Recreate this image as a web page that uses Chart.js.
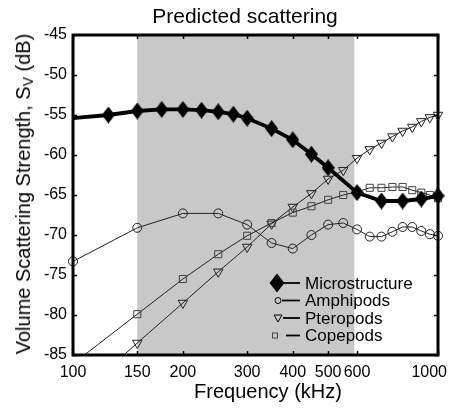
<!DOCTYPE html>
<html><head><meta charset="utf-8">
<script src="https://cdn.jsdelivr.net/npm/chart.js@4/dist/chart.umd.min.js"></script>
<style>
html,body{margin:0;padding:0;background:#fff;}
#wrap{position:relative;width:451px;height:411px;}
#ytitle{position:absolute;left:23px;top:194px;transform:translate(-50%,-50%) rotate(-90deg);white-space:nowrap;font:20px "Liberation Sans",Arial,sans-serif;color:#000;line-height:1;}
#ytitle sub{font-size:70%;vertical-align:-0.2em;line-height:0;}
</style></head><body>
<div id="wrap"><canvas id="c" width="451" height="411"></canvas>
<div id="ytitle">Volume Scattering Strength, S<sub>V</sub> (dB)</div></div>
<script>
// ---- data ----
const microFreq = [100,125,150,175,200,225,250,275,300,350,400,450,500,600,700,800,900,1000];
const microSv   = [-55.4,-55.0,-54.5,-54.3,-54.3,-54.4,-54.6,-54.9,-55.4,-56.7,-58.1,-59.9,-61.6,-64.7,-65.75,-65.75,-65.5,-65.1];
const ampFreq   = [100,150,200,250,300,350,400,450,500,550,600,650,700,750,800,850,900,950,1000];
const ampSv     = [-73.3,-69.1,-67.3,-67.3,-68.7,-71.0,-71.7,-70.0,-68.7,-68.5,-69.3,-70.2,-70.2,-69.6,-69.0,-69.0,-69.5,-69.9,-70.1];
const pterFreq  = [100,150,200,250,300,350,400,450,500,550,600,650,700,750,800,850,900,950,1000];
const pterSv    = [-90.6,-83.5,-78.5,-74.6,-71.5,-68.6,-66.5,-64.8,-63.0,-61.9,-60.4,-59.3,-58.5,-57.7,-57.0,-56.5,-55.8,-55.3,-55.0];
const copeFreq  = [100,150,200,250,300,350,400,450,500,550,600,650,700,750,800,850,900,950,1000];
const copeSv    = [-86.1,-79.9,-75.5,-72.4,-70.1,-68.5,-67.2,-66.4,-65.6,-65.0,-64.6,-64.1,-64.1,-64.0,-64.0,-64.4,-64.7,-65.0,-65.4];
const seriesLabels = ['Microstructure','Amphipods','Pteropods','Copepods'];
const xTickValues = [100,150,200,300,400,500,600,1000];
const xTickLabels = ['100','150','200','300','400','500','600','1000'];
const shadedRange = [150, 590];
const xRange = [100, 1000];
const yRange = [-85, -45];
const yStep = 5;
const chartTitle = 'Predicted scattering';
const xTitle = 'Frequency (kHz)';

const FONT = '"Liberation Sans", Arial, sans-serif';
const pts = (xs, ys) => xs.map((x, i) => ({x, y: ys[i]}));

function diamond(w, h) {
  const c = document.createElement('canvas');
  c.width = w; c.height = h;
  const g = c.getContext('2d');
  g.fillStyle = '#000';
  g.beginPath();
  g.moveTo(w/2, 0); g.lineTo(w, h/2); g.lineTo(w/2, h); g.lineTo(0, h/2); g.closePath();
  g.fill();
  return c;
}
const diamondPt = diamond(13, 17);
const inRange = (r) => (ctx) => {
  const v = ctx.raw && ctx.raw.y;
  return (v < yRange[0] || v > yRange[1]) ? 0 : r;
};

const shadePlugin = {
  id: 'shade',
  beforeDatasetsDraw(chart) {
    const {ctx, chartArea: a, scales: {x}} = chart;
    const x0 = x.getPixelForValue(shadedRange[0]);
    const x1 = x.getPixelForValue(shadedRange[1]);
    ctx.save();
    ctx.fillStyle = '#c8c8c8';
    ctx.fillRect(x0, a.top, x1 - x0, a.bottom - a.top);
    ctx.restore();
  }
};

const framePlugin = {
  id: 'frame',
  afterDatasetsDraw(chart) {
    const {ctx, chartArea: a, scales: {x, y}} = chart;
    ctx.save();
    ctx.strokeStyle = '#000';
    ctx.lineWidth = 1.5;
    const tl = 4;
    ctx.beginPath();
    for (let v = yRange[0]; v <= yRange[1]; v += yStep) {
      const py = Math.round(y.getPixelForValue(v)) + 0.5;
      ctx.moveTo(a.left, py); ctx.lineTo(a.left + tl, py);
      ctx.moveTo(a.right, py); ctx.lineTo(a.right - tl, py);
    }
    xTickValues.forEach(v => {
      const px = Math.round(x.getPixelForValue(v)) + 0.5;
      ctx.moveTo(px, a.bottom); ctx.lineTo(px, a.bottom - tl);
      ctx.moveTo(px, a.top); ctx.lineTo(px, a.top + tl);
    });
    ctx.stroke();
    ctx.lineWidth = 3;
    ctx.strokeRect(a.left, a.top, a.right - a.left, a.bottom - a.top);
    ctx.fillStyle = '#000';
    ctx.font = '16px ' + FONT;
    ctx.textAlign = 'center';
    ctx.textBaseline = 'middle';
    xTickValues.forEach((v, i) => {
      const t = xTickLabels[i];
      const w = ctx.measureText(t).width;
      let px = x.getPixelForValue(v);
      px = Math.min(px, chart.width - 4 - w / 2);
      ctx.fillText(t, px, a.bottom + 18);
    });
    // axis title and chart title
    ctx.font = '20px ' + FONT;
    ctx.fillText(xTitle, 268, a.bottom + 37);
    ctx.font = '21px ' + FONT;
    ctx.fillText(chartTitle, 245, 17);
    ctx.restore();
  }
};

const legendPlugin = {
  id: 'customLegend',
  afterDraw(chart) {
    const {ctx} = chart;
    const rows = [283, 300.5, 318, 335.5];
    const textX = 305;
    ctx.save();
    ctx.fillStyle = '#000';
    ctx.strokeStyle = '#000';
    ctx.font = '17px ' + FONT;
    ctx.textBaseline = 'middle';
    ctx.textAlign = 'left';
    chart.data.datasets.forEach((ds, i) => {
      const yy = rows[i];
      let lx0 = 283;
      if (i === 0) {
        ctx.beginPath();
        ctx.moveTo(277, yy - 9.5); ctx.lineTo(284.5, yy); ctx.lineTo(277, yy + 9.5); ctx.lineTo(269.5, yy); ctx.closePath();
        ctx.fill();
        lx0 = 284;
      } else if (i === 1) {
        ctx.lineWidth = 1;
        ctx.beginPath(); ctx.arc(278, yy, 3, 0, Math.PI * 2); ctx.stroke();
        lx0 = 282;
      } else if (i === 2) {
        ctx.lineWidth = 1;
        ctx.beginPath(); ctx.moveTo(274, yy - 3); ctx.lineTo(282, yy - 3); ctx.lineTo(278, yy + 4); ctx.closePath(); ctx.stroke();
        lx0 = 283;
      } else {
        ctx.lineWidth = 1;
        ctx.strokeStyle = '#444';
        ctx.strokeRect(272.5, yy - 2.5, 5, 5);
        ctx.strokeStyle = '#000';
        lx0 = 286;
      }
      ctx.lineWidth = 1.8;
      ctx.beginPath(); ctx.moveTo(lx0, yy); ctx.lineTo(300, yy); ctx.stroke();
      ctx.fillText(ds.label, textX, yy + 1);
    });
    ctx.restore();
  }
};

const clipBox = {left: 10, top: 0, right: 10, bottom: 0};

new Chart(document.getElementById('c'), {
  type: 'line',
  data: {
    datasets: [
      { label: seriesLabels[0], data: pts(microFreq, microSv), borderColor: '#000', borderWidth: 3.8,
        pointStyle: diamondPt, pointRadius: (ctx) => ctx.raw && ctx.raw.x <= xRange[0] ? 0 : 6, clip: clipBox, order: 0 },
      { label: seriesLabels[1], data: pts(ampFreq, ampSv), borderColor: '#222', borderWidth: 1,
        pointStyle: 'circle', pointRadius: inRange(4.5), pointBorderColor: '#222', pointBackgroundColor: 'rgba(0,0,0,0)', pointBorderWidth: 1, clip: clipBox, order: 3 },
      { label: seriesLabels[2], data: pts(pterFreq, pterSv), borderColor: '#222', borderWidth: 1,
        pointStyle: 'triangle', rotation: 180, pointRadius: inRange(5.5), pointBorderColor: '#222', pointBackgroundColor: 'rgba(0,0,0,0)', pointBorderWidth: 1, clip: clipBox, order: 2 },
      { label: seriesLabels[3], data: pts(copeFreq, copeSv), borderColor: '#222', borderWidth: 1,
        pointStyle: 'rect', pointRadius: inRange(5), pointBorderColor: '#444', pointBackgroundColor: 'rgba(0,0,0,0)', pointBorderWidth: 1, clip: clipBox, order: 1 }
    ]
  },
  options: {
    responsive: false,
    devicePixelRatio: 1,
    animation: false,
    events: [],
    layout: { padding: { left: 0, right: 13, top: 35, bottom: 0 } },
    plugins: {
      legend: { display: false },
      tooltip: { enabled: false },
      title: { display: false }
    },
    scales: {
      x: {
        type: 'logarithmic', min: xRange[0], max: xRange[1],
        grid: { display: false, drawTicks: false }, border: { display: false },
        ticks: { display: false },
        title: { display: false },
        afterFit(s) { s.height = 56; }
      },
      y: {
        min: yRange[0], max: yRange[1],
        grid: { display: false, drawTicks: false }, border: { display: false },
        ticks: { stepSize: yStep, color: '#000', padding: 6, font: { family: FONT, size: 16 } },
        afterFit(s) { s.width = 73; }
      }
    }
  },
  plugins: [shadePlugin, framePlugin, legendPlugin]
});
</script>
</body></html>
